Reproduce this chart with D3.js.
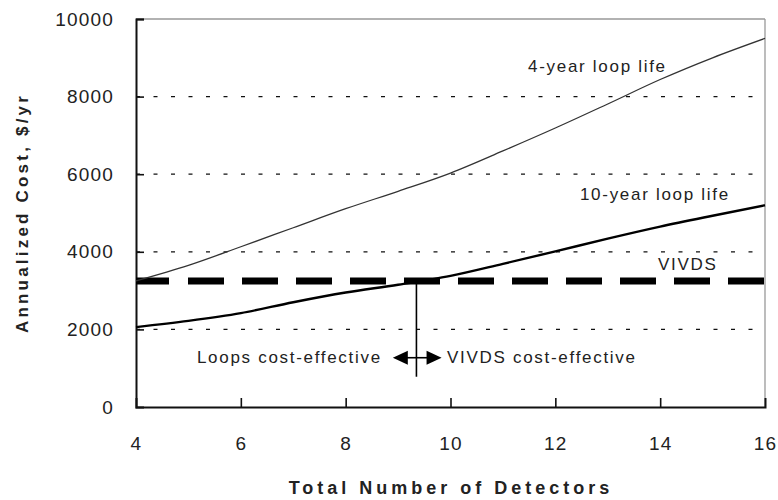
<!DOCTYPE html>
<html>
<head>
<meta charset="utf-8">
<script src="https://cdn.jsdelivr.net/npm/d3@7"></script>
<style>
  body { margin: 0; background: #fff; }
  svg { display: block; font-family: Arial, "Liberation Sans", Helvetica, sans-serif; }
  .tick text { fill: #222; }
</style>
</head>
<body>
<div id="chart"></div>
<script>
'use strict';

// data
const detectors = [4, 5, 6, 7, 8, 9, 10, 11, 12, 13, 14, 15, 16];
const cost4yr = [3250, 3650, 4130, 4620, 5110, 5560, 6030, 6600, 7190, 7810, 8440, 9000, 9500];
const cost10yr = [2060, 2220, 2420, 2700, 2950, 3150, 3380, 3690, 4010, 4340, 4650, 4930, 5200];
const vivdsCost = 3250;
const breakEven = 9.35;
const xTicks = [4, 6, 8, 10, 12, 14, 16];
const yTicks = [0, 2000, 4000, 6000, 8000, 10000];
const gridValues = [2000, 4000, 6000, 8000];

const width = 778, height = 500;
const margin = { top: 19, right: 13, bottom: 93, left: 136 };
const innerWidth = width - margin.left - margin.right;
const innerHeight = height - margin.top - margin.bottom;

const svg = d3.select('#chart')
  .append('svg')
  .attr('width', width)
  .attr('height', height);

const g = svg.append('g')
  .attr('transform', 'translate(' + margin.left + ',' + margin.top + ')');

const x = d3.scaleLinear().domain([4, 16]).range([0, innerWidth]);
const y = d3.scaleLinear().domain([0, 10000]).range([innerHeight, 0]);

// dotted gridlines
g.selectAll('line.grid').data(gridValues).enter()
  .append('line')
  .attr('class', 'grid')
  .attr('x1', 0)
  .attr('x2', innerWidth)
  .attr('y1', d => y(d))
  .attr('y2', d => y(d))
  .attr('stroke', '#111')
  .attr('stroke-width', 1.2)
  .attr('stroke-dasharray', '4,13.5');

// frame: top and right in grey
g.append('line')
  .attr('x1', 0).attr('x2', innerWidth)
  .attr('y1', 0).attr('y2', 0)
  .attr('stroke', '#999').attr('stroke-width', 1.3);
g.append('line')
  .attr('x1', innerWidth).attr('x2', innerWidth)
  .attr('y1', 0).attr('y2', innerHeight)
  .attr('stroke', '#999').attr('stroke-width', 1.3);

// axes
const xAxis = d3.axisBottom(x).tickValues(xTicks).tickSize(-9).tickPadding(30).tickFormat(d3.format('d'));
const yAxis = d3.axisLeft(y).tickValues(yTicks).tickSize(-8).tickPadding(22).tickFormat(d3.format('d'));

const xg = g.append('g')
  .attr('transform', 'translate(0,' + innerHeight + ')')
  .call(xAxis);
const yg = g.append('g').call(yAxis);

[xg, yg].forEach(a => {
  a.attr('font-family', null).attr('font-size', 19);
  a.select('.domain').attr('stroke', '#111').attr('stroke-width', 2);
  a.selectAll('.tick line').attr('stroke', '#111').attr('stroke-width', 1.6);
  a.selectAll('.tick text')
    .attr('font-size', 19)
    .attr('letter-spacing', 1.2);
});
xg.selectAll('.tick text').attr('dy', '0.71em');
xg.selectAll('.tick').filter(d => d === 4 || d === 16).select('line').remove();
yg.selectAll('.tick').filter(d => d === 0).select('line').remove();

// VIVDS dashed line
g.append('line')
  .attr('x1', x(4)).attr('x2', x(16))
  .attr('y1', y(vivdsCost)).attr('y2', y(vivdsCost))
  .attr('stroke', '#000')
  .attr('stroke-width', 7)
  .attr('stroke-dasharray', '33,19,36,18,36,18,36,18,36,18,36,18,36,18,36,18,36,18,36,18,36,18,36,18');

// loop life curves
const line = d3.line()
  .x((d, i) => x(detectors[i]))
  .y(d => y(d))
  .curve(d3.curveMonotoneX);

g.append('path')
  .datum(cost4yr)
  .attr('fill', 'none')
  .attr('stroke', '#333')
  .attr('stroke-width', 1.3)
  .attr('d', line);

g.append('path')
  .datum(cost10yr)
  .attr('fill', 'none')
  .attr('stroke', '#000')
  .attr('stroke-width', 2.4)
  .attr('d', line);

// break-even marker
g.append('line')
  .attr('x1', x(breakEven)).attr('x2', x(breakEven))
  .attr('y1', y(vivdsCost)).attr('y2', y(780))
  .attr('stroke', '#000')
  .attr('stroke-width', 1.6);

const arrowY = y(1270);
const ax0 = x(8.9), ax1 = x(9.83);
g.append('line')
  .attr('x1', ax0 + 10).attr('x2', ax1 - 10)
  .attr('y1', arrowY).attr('y2', arrowY)
  .attr('stroke', '#000').attr('stroke-width', 1.6);
g.append('path')
  .attr('d', `M${ax0},${arrowY} L${ax0 + 15},${arrowY - 7} L${ax0 + 15},${arrowY + 7} Z`)
  .attr('fill', '#000');
g.append('path')
  .attr('d', `M${ax1},${arrowY} L${ax1 - 15},${arrowY - 7} L${ax1 - 15},${arrowY + 7} Z`)
  .attr('fill', '#000');

// annotations
function note(text, xv, yv, anchor) {
  g.append('text')
    .attr('x', x(xv)).attr('y', y(yv))
    .attr('text-anchor', anchor)
    .attr('font-size', 17)
    .attr('letter-spacing', 1.7)
    .attr('fill', '#222')
    .text(text);
}
note('4-year loop life', 11.48, 8634, 'start');
note('10-year loop life', 12.47, 5335, 'start');
note('VIVDS', 13.96, 3531, 'start');
note('Loops cost-effective', 8.69, 1134, 'end');
note('VIVDS cost-effective', 9.935, 1134, 'start');

// axis titles
svg.append('text')
  .attr('transform', 'translate(28,213) rotate(-90)')
  .attr('text-anchor', 'middle')
  .attr('font-size', 17)
  .attr('font-weight', 'bold')
  .attr('letter-spacing', 3.2)
  .attr('fill', '#222')
  .text('Annualized Cost, $/yr');

svg.append('text')
  .attr('x', 451).attr('y', 494)
  .attr('text-anchor', 'middle')
  .attr('font-size', 18)
  .attr('font-weight', 'bold')
  .attr('letter-spacing', 4)
  .attr('fill', '#222')
  .text('Total Number of Detectors');
</script>
</body>
</html>
